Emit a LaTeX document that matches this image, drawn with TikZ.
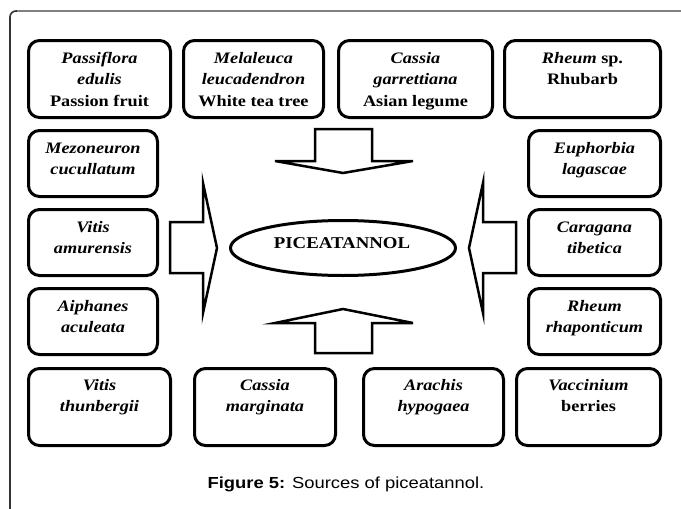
\documentclass[tikz,border=0pt]{standalone}
\usepackage{fontspec}
\setmainfont{Liberation Serif}
\newfontfamily\boxfont[FakeStretch=1.14]{Liberation Serif}
\newfontfamily\capfont[FakeStretch=1.15]{Liberation Sans}
\usetikzlibrary{shapes.geometric}
\newcommand\srclines[1]{\begin{tabular}[t]{@{}c@{}}#1\end{tabular}}
\tikzset{
  srcbox/.style={draw, line width=3pt, rounded corners=11pt, inner sep=0pt, rectangle},
  srctext/.style={anchor=base, inner sep=0pt, font=\boxfont\fontsize{16pt}{21.5pt}\selectfont\bfseries},
  blockarrow/.style={draw, line width=2.5pt, fill=white, line join=miter},
  core/.style={draw, ellipse, line width=3pt, inner sep=0pt},
  coretext/.style={anchor=base, inner sep=0pt, font=\boxfont\fontsize{16.5pt}{20pt}\selectfont\bfseries},
  captext/.style={anchor=base, inner sep=0pt, font=\capfont\fontsize{16pt}{19pt}\selectfont},
}
\begin{document}
\begin{tikzpicture}[x=1pt,y=-1pt]
\useasboundingbox (0,0) rectangle (681,509);
\fill[white] (0,0) rectangle (681,509);
\clip (0,0) rectangle (681,509);
% frame
\draw[line width=1.6pt, black!80, rounded corners=6pt] (10,530) -- (10,11) -- (17,11);
\draw[line width=1.6pt, black!50] (16.5,11) -- (700,11);

% top row
\node[srcbox, minimum width=142pt, minimum height=77pt] (passi) at (99.5,79) {};
\node[srctext] (passiT) at (99.5,63) {\srclines{\textit{Passiflora}\\\textit{edulis}\\Passion fruit}};
\node[srcbox, minimum width=140pt, minimum height=77pt] (mela) at (253.5,79) {};
\node[srctext] (melaT) at (253.5,63) {\srclines{\textit{Melaleuca}\\\textit{leucadendron}\\White tea tree}};
\node[srcbox, minimum width=154pt, minimum height=77pt] (cgar) at (415.5,79) {};
\node[srctext] (cgarT) at (415.5,63) {\srclines{\textit{Cassia}\\\textit{garrettiana}\\Asian legume}};
\node[srcbox, minimum width=156pt, minimum height=77pt] (rheum) at (582.5,79) {};
\node[srctext] (rheumT) at (582.5,63) {\srclines{\textit{Rheum} sp.\\Rhubarb}};

% left column
\node[srcbox, minimum width=129pt, minimum height=66pt] (mezo) at (93,163.5) {};
\node[srctext] (mezoT) at (93,153) {\srclines{\textit{Mezoneuron}\\\textit{cucullatum}}};
\node[srcbox, minimum width=129pt, minimum height=66pt] (vamu) at (93,242.5) {};
\node[srctext] (vamuT) at (93,232) {\srclines{\textit{Vitis}\\\textit{amurensis}}};
\node[srcbox, minimum width=129pt, minimum height=66pt] (aiph) at (93,321.5) {};
\node[srctext] (aiphT) at (93,311) {\srclines{\textit{Aiphanes}\\\textit{aculeata}}};

% right column
\node[srcbox, minimum width=132pt, minimum height=66pt] (euph) at (594.5,163.5) {};
\node[srctext] (euphT) at (594.5,153) {\srclines{\textit{Euphorbia}\\\textit{lagascae}}};
\node[srcbox, minimum width=132pt, minimum height=66pt] (cara) at (594.5,242.5) {};
\node[srctext] (caraT) at (594.5,232) {\srclines{\textit{Caragana}\\\textit{tibetica}}};
\node[srcbox, minimum width=132pt, minimum height=66pt] (rrha) at (594.5,321.5) {};
\node[srctext] (rrhaT) at (594.5,311) {\srclines{\textit{Rheum}\\\textit{rhaponticum}}};

% bottom row
\node[srcbox, minimum width=142pt, minimum height=77pt] (vthu) at (99.5,407) {};
\node[srctext] (vthuT) at (99.5,390) {\srclines{\textit{Vitis}\\\textit{thunbergii}}};
\node[srcbox, minimum width=141pt, minimum height=77pt] (cmar) at (265,407) {};
\node[srctext] (cmarT) at (265,390) {\srclines{\textit{Cassia}\\\textit{marginata}}};
\node[srcbox, minimum width=140pt, minimum height=77pt] (arac) at (433.5,407) {};
\node[srctext] (aracT) at (433.5,390) {\srclines{\textit{Arachis}\\\textit{hypogaea}}};
\node[srcbox, minimum width=144pt, minimum height=77pt] (vacc) at (588.5,407) {};
\node[srctext] (vaccT) at (588.5,390) {\srclines{\textit{Vaccinium}\\berries}};

% centre
\node[core, minimum width=225pt, minimum height=55pt] (pic) at (343,248) {};
\node[coretext] (picT) at (342,248.5) {PICEATANNOL};

% block arrows
\draw[blockarrow] (315,129) -- (372,129) -- (372,161) -- (413,161) -- (343,173) -- (275,161) -- (315,161) -- cycle;
\draw[blockarrow] (315,353) -- (372,353) -- (372,323) -- (413,323) -- (343,309) -- (275,323) -- (315,323) -- cycle;
\draw[blockarrow] (170,222) -- (203,222) -- (203,183) -- (217,248) -- (203,313) -- (203,273) -- (170,273) -- cycle;
\draw[blockarrow] (516,222) -- (483,222) -- (483,183) -- (469,248) -- (483,313) -- (483,273) -- (516,273) -- cycle;

% caption
\node[captext] (cap) at (346,488) {\textbf{Figure 5:} Sources of piceatannol.};
\end{tikzpicture}
\end{document}
